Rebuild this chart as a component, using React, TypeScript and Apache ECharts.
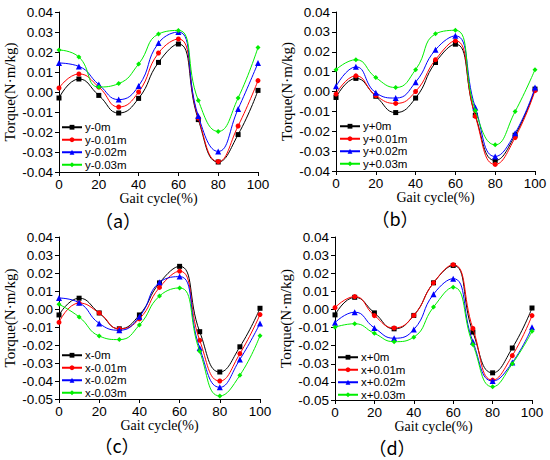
import React, { useEffect, useRef } from "react";
import * as echarts from "echarts";

const X = [0, 10, 20, 30, 40, 50, 60, 70, 80, 90, 100];

// Panel (a)
const aNames = ["y-0m", "y-0.01m", "y-0.02m", "y-0.03m"];
const a0 = [-0.003, 0.0065, -0.0017, -0.0105, -0.0032, 0.0148, 0.024, -0.0138, -0.035, -0.0213, 0.0008];
const a1 = [0.002, 0.009, 0.0025, -0.0075, 0.0, 0.0195, 0.0265, -0.013, -0.0348, -0.017, 0.0057];
const a2 = [0.0145, 0.0128, 0.0037, -0.0038, 0.003, 0.0245, 0.03, -0.012, -0.0297, -0.0085, 0.0145];
const a3 = [0.021, 0.0175, 0.0025, 0.0042, 0.014, 0.029, 0.0308, -0.0042, -0.0197, -0.003, 0.0223];

// Panel (b)
const bNames = ["y+0m", "y+0.01m", "y+0.02m", "y+0.03m"];
const b0 = [-0.003, 0.0066, -0.0024, -0.0106, -0.0033, 0.0146, 0.0238, -0.012, -0.0347, -0.022, 0.0012];
const b1 = [-0.0013, 0.0079, -0.002, -0.006, 0.0, 0.016, 0.0255, -0.0125, -0.0367, -0.0232, 0.0004];
const b2 = [0.0026, 0.0124, -0.0006, -0.0033, 0.0047, 0.021, 0.028, -0.008, -0.0327, -0.021, 0.002];
const b3 = [0.011, 0.016, 0.007, 0.002, 0.011, 0.029, 0.0308, -0.0096, -0.0268, -0.0101, 0.011];

// Panel (c)
const cNames = ["x-0m", "x-0.01m", "x-0.02m", "x-0.03m"];
const c0 = [-0.0033, 0.006, -0.0022, -0.011, -0.0033, 0.0145, 0.0237, -0.0126, -0.035, -0.021, 0.0004];
const c1 = [-0.0074, 0.0033, -0.0022, -0.011, -0.0055, 0.012, 0.021, -0.0174, -0.04, -0.0248, -0.0031];
const c2 = [0.0061, 0.0035, -0.008, -0.0118, -0.0043, 0.0148, 0.018, -0.0217, -0.0435, -0.028, -0.008];
const c3 = [0.0026, -0.0044, -0.015, -0.017, -0.0089, 0.0072, 0.0117, -0.0235, -0.0483, -0.0368, -0.0148];

// Panel (d)
const dNames = ["x+0m", "x+0.01m", "x+0.02m", "x+0.03m"];
const d0 = [-0.003, 0.0067, -0.0019, -0.0107, -0.0033, 0.0147, 0.0243, -0.0125, -0.035, -0.0213, 0.0008];
const d1 = [0.001, 0.0071, -0.0034, -0.0102, -0.0033, 0.0147, 0.0247, -0.0105, -0.039, -0.0255, -0.0034];
const d2 = [-0.0073, -0.0015, -0.0102, -0.0159, -0.0111, 0.0084, 0.017, -0.0178, -0.0395, -0.0293, -0.0098];
const d3 = [-0.0098, -0.0079, -0.0132, -0.0178, -0.0153, 0.0013, 0.0122, -0.0193, -0.0427, -0.03, -0.0121];

const yMins = [-0.04, -0.04, -0.05, -0.05];
const yMax = 0.04;
const panelLabels = ["（a）", "（b）", "（c）", "（d）"];

const COLORS = ["#000000", "#ff0000", "#0000ff", "#00ee00"];
const SYMBOLS = ["rect", "circle", "triangle", "diamond"];

const SANS = "'Liberation Sans', Arial, sans-serif";
const SERIF = "'Liberation Serif', 'Times New Roman', serif";

export default function App() {
  const ref = useRef<HTMLDivElement>(null);
  useEffect(() => {
    if (!ref.current) return;
    const chart = echarts.init(ref.current, null, { renderer: "svg" });

    const panels = [
      { names: aNames, data: [a0, a1, a2, a3] },
      { names: bNames, data: [b0, b1, b2, b3] },
      { names: cNames, data: [c0, c1, c2, c3] },
      { names: dNames, data: [d0, d1, d2, d3] },
    ];
    const grids = [
      { left: 59, top: 12, width: 199, height: 160 },
      { left: 336, top: 12, width: 199, height: 159 },
      { left: 59, top: 237, width: 201, height: 162 },
      { left: 335, top: 237, width: 197, height: 163 },
    ];
    const legendPos = [
      { left: 61, top: 121 },
      { left: 339, top: 120 },
      { left: 61, top: 349 },
      { left: 337, top: 351 },
    ];
    const labelPos = [
      { x: 118, y: 220 },
      { x: 395, y: 218 },
      { x: 117, y: 445 },
      { x: 392, y: 447 },
    ];

    const series: any[] = [];
    panels.forEach((p, i) => {
      p.data.forEach((vals, k) => {
        series.push({
          type: "line",
          name: p.names[k],
          xAxisIndex: i,
          yAxisIndex: i,
          data: X.map((x, j) => [x, vals[j]]),
          smooth: 0.5,
          symbol: SYMBOLS[k],
          symbolSize: k === 2 ? 6 : 5,
          showAllSymbol: true,
          lineStyle: { color: COLORS[k], width: 1 },
          itemStyle: { color: COLORS[k] },
          z: 2 + k,
        });
      });
    });

    const option: any = {
      animation: false,
      backgroundColor: "#ffffff",
      grid: grids.map((g) => ({ ...g, containLabel: false })),
      xAxis: grids.map((_, i) => ({
        type: "value",
        gridIndex: i,
        min: 0,
        max: 100,
        interval: 20,
        name: "Gait cycle(%)",
        nameLocation: "middle",
        nameGap: 19,
        nameTextStyle: { fontFamily: SERIF, fontSize: 14, color: "#000" },
        axisLine: { show: true, onZero: false, lineStyle: { color: "#000", width: 1 } },
        axisTick: { show: true, inside: false, length: 4, lineStyle: { color: "#000" } },
        axisLabel: { fontFamily: SANS, fontSize: 13.5, color: "#000", margin: 5 },
        splitLine: { show: false },
      })),
      yAxis: grids.map((_, i) => ({
        type: "value",
        gridIndex: i,
        min: yMins[i],
        max: yMax,
        interval: 0.01,
        name: "Torque(N·m/kg)",
        nameLocation: "middle",
        nameRotate: 90,
        nameGap: 42,
        nameTextStyle: { fontFamily: SERIF, fontSize: 15, color: "#000" },
        axisLine: { show: true, onZero: false, lineStyle: { color: "#000", width: 1 } },
        axisTick: { show: true, inside: false, length: 4, lineStyle: { color: "#000" } },
        axisLabel: {
          fontFamily: SANS,
          fontSize: 13.5,
          color: "#000",
          margin: 6,
          formatter: (v: number) => v.toFixed(2),
        },
        splitLine: { show: false },
      })),
      legend: panels.map((p, i) => ({
        orient: "vertical",
        left: legendPos[i].left,
        top: legendPos[i].top,
        data: p.names,
        itemWidth: 20,
        itemHeight: 6,
        itemGap: 0,
        padding: 0,
        textStyle: {
          fontFamily: SANS,
          fontSize: 11.5,
          lineHeight: 12.5,
          color: "#000",
          padding: [0, 0, 0, -2],
        },
        selectedMode: false,
      })),
      graphic: labelPos.map((pos, i) => ({
        type: "text",
        x: pos.x,
        y: pos.y,
        style: {
          text: panelLabels[i],
          font: "18px 'Noto Sans CJK SC', sans-serif",
          fill: "#000",
          align: "center",
          verticalAlign: "middle",
        },
      })),
      series,
    };

    chart.setOption(option);
    return () => chart.dispose();
  }, []);

  return (
    <div
      ref={ref}
      style={{ position: "fixed", left: 0, top: 0, width: 550, height: 460 }}
    />
  );
}
